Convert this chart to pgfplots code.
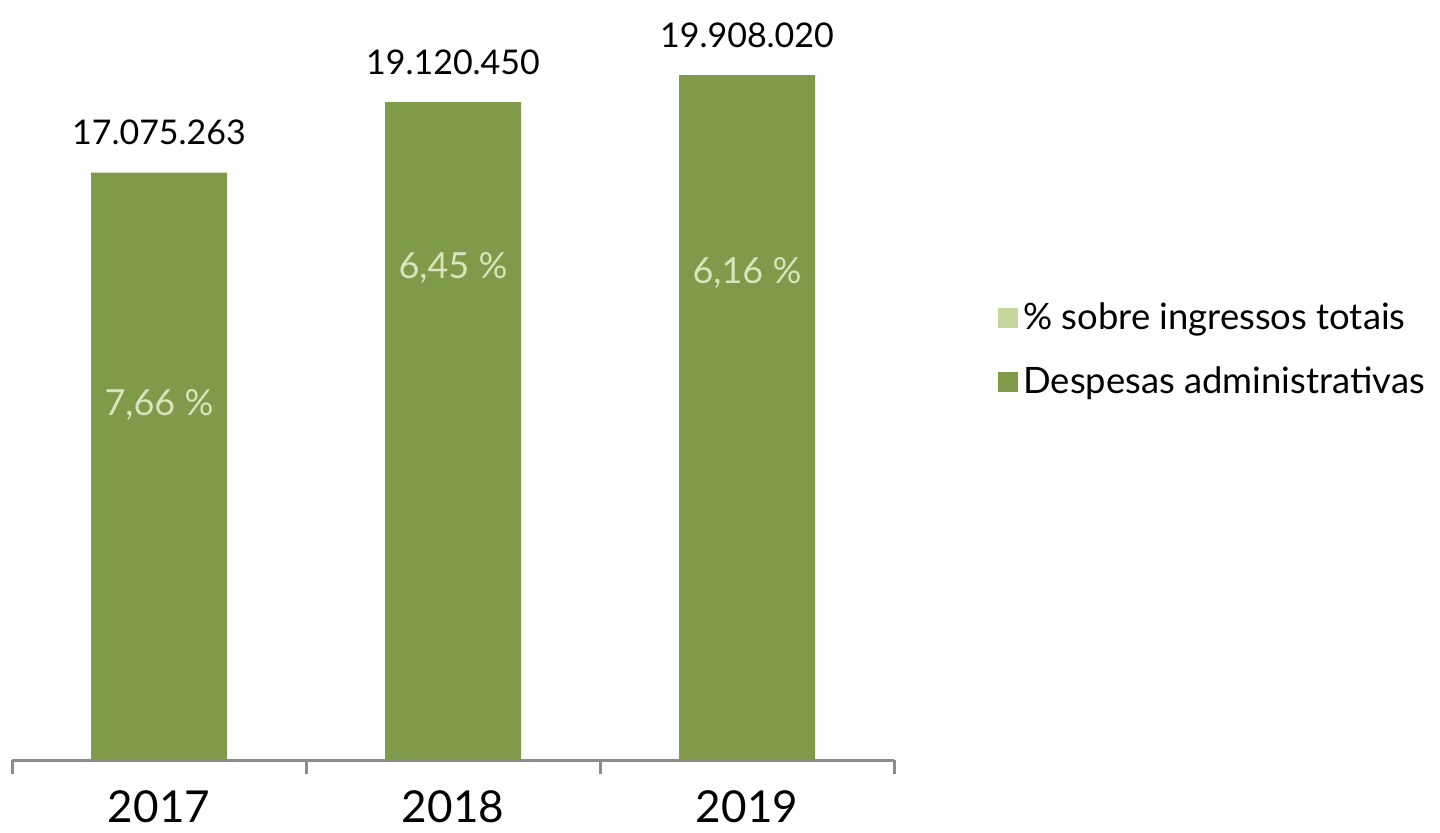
\documentclass[border=0pt]{standalone}
\usepackage{pgfplots}
\pgfplotsset{compat=1.18}
\usepackage{fontspec}
\setmainfont{Lato}
\definecolor{barg}{HTML}{7F9A48}
\definecolor{lightg}{HTML}{C3D69B}
\definecolor{pctc}{HTML}{D7E4BD}
\definecolor{axg}{HTML}{8C8C8C}
\begin{document}
\begin{tikzpicture}
\begin{axis}[
 at={(6pt,36pt)}, anchor=south west,
 scale only axis, width=441pt, height=380pt,
 xmin=-0.5, xmax=2.5, ymin=0, ymax=22090000,
 axis x line*=bottom, axis y line=none,
 x axis line style={draw=axg, line width=1.5pt, -},
 xtick={0,1,2}, xticklabels={2017,2018,2019},
 major tick length=0pt,
 xticklabel style={font=\fontsize{22}{26}\selectfont, text=black, anchor=base, yshift=-31pt},
 extra x ticks={-0.5,0.5,1.5,2.5}, extra x tick labels={},
 extra x tick style={major tick length=7pt, tick align=outside, tick style={draw=axg, line width=1.5pt}},
 ybar, bar width=68pt,
 point meta=explicit symbolic,
 nodes near coords,
 every node near coord/.append style={font=\fontsize{17}{21}\selectfont, text=black, anchor=base, yshift=14pt, inner sep=0pt},
 legend image code/.code={\fill[#1] (0pt,-5pt) rectangle (10pt,5pt);},
 legend style={at={(axis description cs:1,0.54)}, anchor=west, xshift=52pt, draw=none, fill=none, inner sep=0pt, font=\fontsize{18.2}{21}\selectfont, row sep=12pt, nodes={inner sep=2.5pt}},
 legend cell align=left,
 clip=false,
]
\addlegendimage{fill=lightg, draw=none}
\addlegendentry{\% sobre ingressos totais}
\addplot[fill=barg, draw=none] coordinates {
 (0,17075263) [17.075.263]
 (1,19120450) [19.120.450]
 (2,19908020) [19.908.020]
};
\addlegendentry{Despesas administrativas}
\node[text=pctc, font=\fontsize{18}{22}\selectfont] at (axis cs:0,10320000) {7,66 \%};
\node[text=pctc, font=\fontsize{18}{22}\selectfont] at (axis cs:1,14300000) {6,45 \%};
\node[text=pctc, font=\fontsize{18}{22}\selectfont] at (axis cs:2,14150000) {6,16 \%};
\end{axis}
\pgfresetboundingbox
\path (0,0) rectangle (720pt,416pt);
\end{tikzpicture}
\end{document}
